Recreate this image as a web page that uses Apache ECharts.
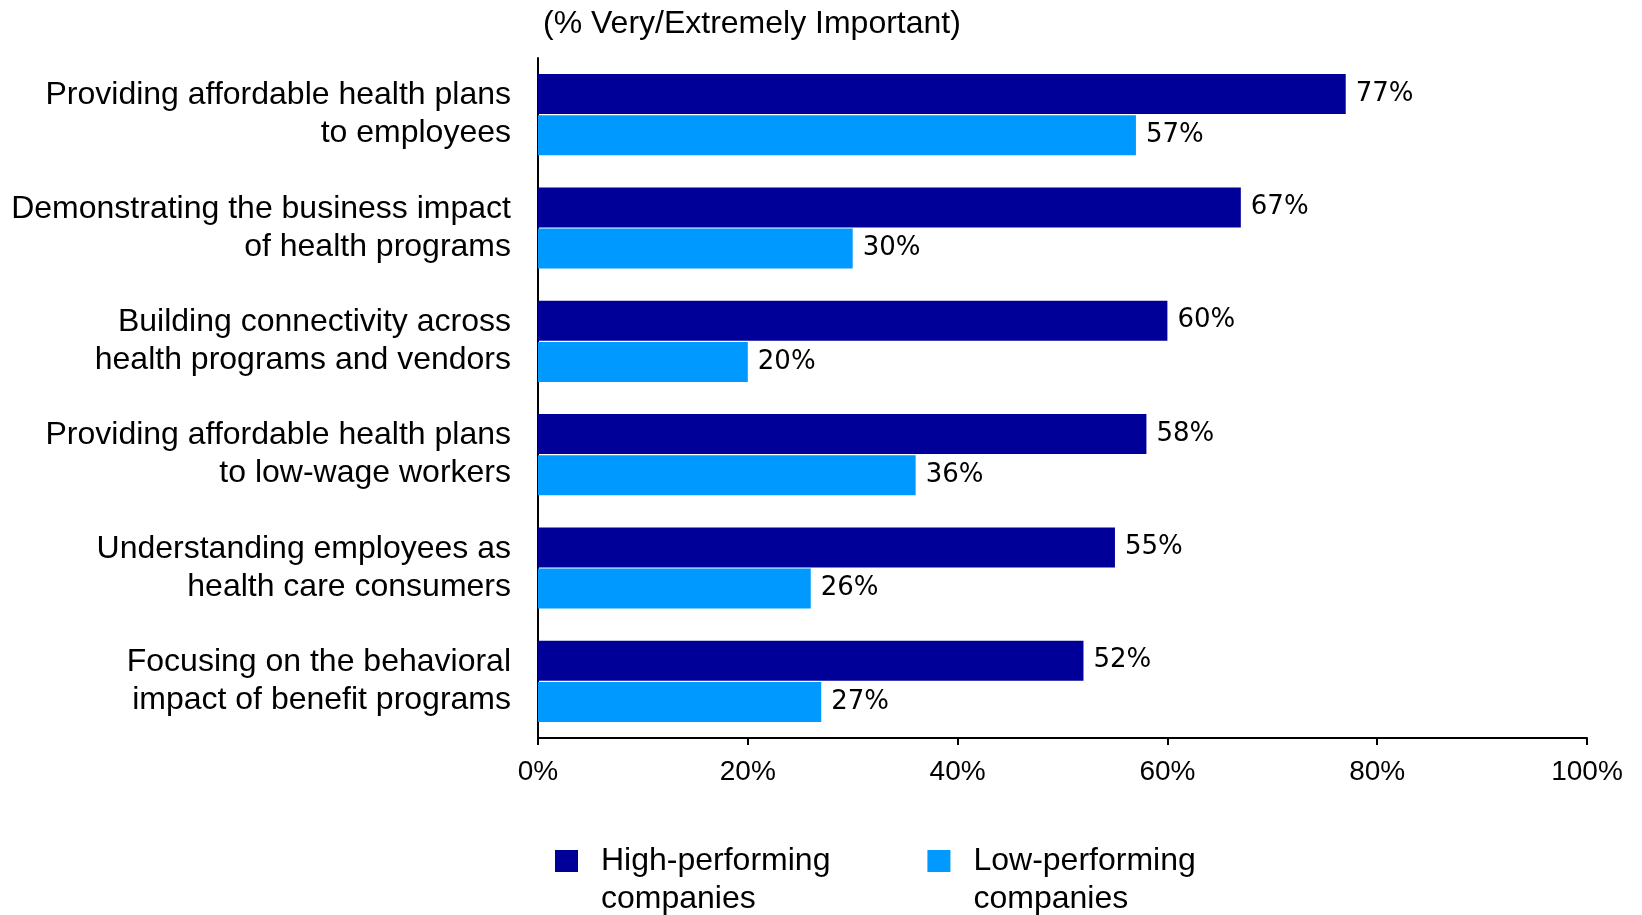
<!DOCTYPE html>
<html>
<head>
<meta charset="utf-8">
<script src="https://cdn.jsdelivr.net/npm/echarts@6/dist/echarts.min.js"></script>
<style>
  html, body { margin: 0; padding: 0; background: #fff; }
  #chart { width: 1642px; height: 915px; }
</style>
</head>
<body>
<div id="chart"></div>
<script>
const categories = [
  "Providing affordable health plans\nto employees",
  "Demonstrating the business impact\nof health programs",
  "Building connectivity across\nhealth programs and vendors",
  "Providing affordable health plans\nto low-wage workers",
  "Understanding employees as\nhealth care consumers",
  "Focusing on the behavioral\nimpact of benefit programs"
];
const highPerforming = [77, 67, 60, 58, 55, 52];
const lowPerforming = [57, 30, 20, 36, 26, 27];
const seriesNames = ["High-performing\ncompanies", "Low-performing\ncompanies"];

const font = "'Liberation Sans', Arial, sans-serif";
const valueLabel = {
  show: true,
  position: "right",
  distance: 10,
  formatter: "{c}%",
  color: "#000",
  fontFamily: "'DejaVu Sans', Verdana, sans-serif",
  fontSize: 26
};

const chart = echarts.init(document.getElementById("chart"));
chart.setOption({
  animation: false,
  title: {
    text: "(% Very/Extremely Important)",
    left: 543,
    top: 8,
    padding: 0,
    textStyle: { color: "#000", fontWeight: "normal", fontSize: 32, fontFamily: font }
  },
  legend: {
    left: 555,
    top: 804,
    padding: 0,
    itemWidth: 23,
    itemHeight: 22,
    itemGap: 97,
    icon: "rect",
    // leading empty line keeps the square level with the first line
    formatter: name => "\n" + name,
    textStyle: {
      color: "#000",
      fontSize: 32,
      lineHeight: 38,
      fontFamily: font,
      padding: [0, 0, 0, 18]
    }
  },
  grid: { left: 538, right: 55, top: 58, bottom: 177, containLabel: false },
  xAxis: {
    type: "value",
    min: 0,
    max: 100,
    interval: 20,
    splitLine: { show: false },
    axisLine: { show: true, lineStyle: { color: "#000", width: 2 } },
    axisTick: { show: true, length: 7, lineStyle: { color: "#000", width: 2 } },
    axisLabel: {
      formatter: "{value}%",
      margin: 20,
      color: "#000",
      fontSize: 28,
      fontFamily: font
    }
  },
  yAxis: {
    type: "category",
    inverse: true,
    data: categories,
    axisLine: { show: true, lineStyle: { color: "#000", width: 2 } },
    axisTick: { show: false },
    axisLabel: {
      margin: 27,
      color: "#000",
      fontSize: 32,
      lineHeight: 38,
      fontFamily: font,
      align: "right",
      padding: [6, 0, 0, 0]
    }
  },
  series: [
    {
      name: seriesNames[0],
      type: "bar",
      data: highPerforming,
      barWidth: 40,
      barGap: "3%",
      itemStyle: { color: "#000099" },
      label: valueLabel
    },
    {
      name: seriesNames[1],
      type: "bar",
      data: lowPerforming,
      barWidth: 40,
      itemStyle: { color: "#0099FF" },
      label: valueLabel
    }
  ]
});
</script>
</body>
</html>
